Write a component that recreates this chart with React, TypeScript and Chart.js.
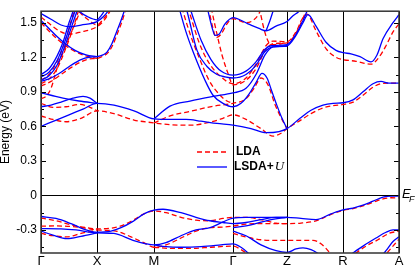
import { useEffect, useRef } from "react";
import { Chart, registerables } from "chart.js";
Chart.register(...registerables);

type Band = number[][];

const kTicks = [0, 56, 113, 192, 246, 302, 358];
const kLabels = ["Γ", "X", "M", "Γ", "Z", "R", "A"];
const energyTicks = [-0.3, 0, 0.3, 0.6, 0.9, 1.2, 1.5];
const energyMinorTicks = [-0.45, -0.15, 0.15, 0.45, 0.75, 1.05, 1.35];
const energyRange = [-0.5, 1.6];
const seriesNames = ["LDA", "LSDA+", "U"];
const axisTitle = "Energy (eV)";

// LSDA+U (blue, solid) conduction bands: [k, E]
const lsduConduction: Band[] = [
  [[0,0.60],[14,0.65],[28,0.70],[42,0.75],[56,0.80],[73,0.785],[93,0.735],[113,0.665],[130,0.66],[145,0.66],[160,0.645],[176,0.625],[192,0.61],[210,0.58],[225,0.545],[238,0.555],[246,0.58],[259,0.67],[270,0.74],[282,0.785],[292,0.80],[302,0.805],[312,0.83],[322,0.90],[332,0.97],[340,0.99],[348,0.975],[358,0.975]],
  [[0,0.77],[10,0.785],[20,0.81],[32,0.845],[42,0.86],[49,0.845],[56,0.80]],
  [[0,0.89],[10,0.87],[22,0.845],[38,0.82],[56,0.80]],
  [[0,0.99],[10,1.02],[20,1.07],[30,1.13],[40,1.18],[48,1.20],[56,1.205],[62,1.22],[66,1.245],[71,1.32],[76,1.43],[80,1.52],[84,1.62],[87,1.7]],
  [[0,1.00],[8,1.04],[16,1.13],[24,1.30],[30,1.45],[36,1.6],[40,1.7]],
  [[0,1.03],[8,1.07],[16,1.17],[24,1.34],[30,1.50],[34,1.6],[38,1.7]],
  [[0,1.05],[8,1.10],[16,1.21],[22,1.33],[28,1.50],[32,1.6],[35,1.7]],
  [[0,1.52],[8,1.45],[16,1.38],[24,1.32],[34,1.26],[45,1.22],[56,1.205]],
  [[0,1.58],[10,1.53],[20,1.48],[28,1.465],[40,1.48],[56,1.51],[62,1.55],[67,1.6],[70,1.65]],
  [[32,1.65],[38,1.6],[46,1.555],[56,1.525],[60,1.56],[63,1.6],[65,1.65]],
  [[113,0.665],[129,0.775],[149,0.82],[172,0.86],[192,0.89],[205,0.93],[215,1.05],[224,1.22],[232,1.29],[246,1.30],[255,1.39],[262,1.50],[267,1.57],[275,1.47],[285,1.33],[295,1.26],[302,1.24],[310,1.23],[319,1.205],[330,1.16],[336,1.22],[342,1.36],[352,1.50],[358,1.57]],
  [[136,1.7],[139,1.6],[145,1.42],[152,1.25],[164,1.00],[172,0.87],[182,0.80],[192,0.77],[200,0.80],[208,0.88],[215,0.98],[221,1.06],[226,1.02],[231,0.90],[236,0.78],[241,0.67],[246,0.58]],
  [[142,1.7],[146,1.6],[156,1.26],[166,1.12],[176,1.05],[184,1.03],[192,1.02],[205,1.05],[215,1.13],[224,1.25],[232,1.29],[246,1.295]],
  [[146,1.7],[150,1.6],[160,1.35],[170,1.18],[180,1.08],[192,1.045],[205,1.08],[215,1.16],[224,1.27],[230,1.30],[246,1.31],[255,1.40],[262,1.52],[266,1.6],[268,1.65]],
  [[164,1.7],[167,1.6],[171,1.46],[174,1.39],[178,1.40],[184,1.49],[192,1.545],[207,1.49],[218,1.45],[225,1.43],[235,1.47],[246,1.51],[252,1.56],[258,1.6],[262,1.65]],
  [[225,1.43],[229,1.52],[232,1.6],[234,1.65]],
];

// LSDA+U valence bands
const lsduValence: Band[] = [
  [[0,-0.183],[15,-0.20],[30,-0.245],[45,-0.30],[56,-0.32],[70,-0.31],[80,-0.28],[92,-0.225],[103,-0.16],[113,-0.128],[122,-0.12],[140,-0.15],[155,-0.19],[169,-0.22],[182,-0.235],[192,-0.245],[205,-0.235],[220,-0.21],[235,-0.19],[246,-0.19],[260,-0.2],[275,-0.21],[290,-0.16],[302,-0.125],[312,-0.11],[322,-0.085],[332,-0.05],[342,-0.015],[350,-0.005],[358,-0.005]],
  [[0,-0.288],[20,-0.29],[35,-0.30],[56,-0.325],[73,-0.33],[92,-0.39],[105,-0.42],[113,-0.43],[125,-0.41],[140,-0.35],[155,-0.30],[169,-0.28],[182,-0.23],[192,-0.197],[205,-0.19],[220,-0.19],[235,-0.19],[246,-0.19]],
  [[0,-0.31],[12,-0.345],[26,-0.375],[40,-0.355],[56,-0.325]],
  [[113,-0.43],[125,-0.445],[140,-0.45],[160,-0.445],[180,-0.43],[192,-0.42],[200,-0.45],[207,-0.5],[212,-0.55]],
  [[192,-0.31],[205,-0.35],[220,-0.43],[235,-0.48],[246,-0.495],[255,-0.465],[262,-0.455],[270,-0.47],[278,-0.51],[284,-0.55]],
  [[192,-0.28],[210,-0.255],[228,-0.215],[246,-0.19]],
  [[305,-0.55],[312,-0.50],[322,-0.44],[335,-0.37],[345,-0.32],[352,-0.30],[358,-0.30]],
  [[338,-0.55],[345,-0.48],[352,-0.40],[358,-0.36]],
];

// LDA (red, dashed) conduction bands
const ldaConduction: Band[] = [
  [[0,0.69],[12,0.66],[25,0.64],[40,0.67],[56,0.735],[73,0.71],[93,0.655],[113,0.63],[129,0.614],[149,0.61],[169,0.636],[182,0.67],[192,0.70],[205,0.66],[220,0.58],[232,0.515],[240,0.54],[246,0.58],[259,0.65],[270,0.71],[282,0.76],[292,0.78],[302,0.79],[312,0.81],[322,0.87],[332,0.94],[340,0.97],[348,0.975],[358,0.975]],
  [[0,0.80],[12,0.765],[25,0.77],[39,0.79],[48,0.77],[56,0.735]],
  [[113,0.63],[129,0.69],[149,0.73],[172,0.775],[192,0.80],[205,0.84],[213,0.93],[220,1.02],[227,0.96],[234,0.79],[241,0.66],[246,0.58]],
  [[0,0.84],[5,0.86],[10,0.93],[17,1.13],[24,1.28],[30,1.41],[35,1.51],[39,1.6],[42,1.66]],
  [[0,0.95],[10,0.99],[20,1.05],[30,1.11],[40,1.16],[48,1.185],[56,1.19],[62,1.21],[67,1.24],[72,1.31],[77,1.42],[81,1.51],[85,1.62],[88,1.7]],
  [[0,0.97],[8,1.01],[16,1.10],[24,1.26],[30,1.40],[36,1.56],[39,1.65]],
  [[0,1.00],[8,1.05],[16,1.16],[22,1.29],[28,1.45],[33,1.6],[36,1.68]],
  [[0,1.50],[10,1.41],[20,1.33],[30,1.27],[42,1.22],[56,1.19]],
  [[0,1.55],[10,1.48],[20,1.42],[28,1.40],[40,1.42],[56,1.465],[63,1.52],[69,1.6],[72,1.65]],
  [[33,1.65],[40,1.58],[48,1.52],[56,1.48],[63,1.54],[68,1.6],[70,1.65]],
  [[139,1.7],[142,1.6],[150,1.38],[158,1.20],[168,1.00],[178,0.88],[186,0.82],[192,0.80]],
  [[144,1.7],[148,1.6],[158,1.33],[168,1.15],[180,1.03],[192,0.97],[205,1.02],[215,1.14],[225,1.30],[232,1.34],[246,1.335],[255,1.42],[261,1.53],[266,1.575],[275,1.43],[285,1.275],[295,1.20],[302,1.18],[315,1.165],[330,1.14],[338,1.20],[345,1.30],[352,1.42],[358,1.49]],
  [[169,1.7],[171,1.6],[176,1.40],[181,1.22],[187,1.06],[192,0.96],[205,1.00],[215,1.10],[225,1.27],[233,1.32],[246,1.325],[255,1.41],[261,1.52],[265,1.6],[267,1.65]],
  [[165,1.7],[168,1.6],[172,1.45],[175,1.37],[180,1.40],[186,1.49],[192,1.535],[205,1.50],[212,1.52],[218,1.58],[221,1.65]],
  [[216,1.7],[219,1.6],[222,1.48],[226,1.36],[230,1.31],[236,1.31],[246,1.33]],
];

// LDA valence bands
const ldaValence: Band[] = [
  [[0,-0.197],[15,-0.22],[30,-0.255],[45,-0.28],[56,-0.29],[70,-0.285],[80,-0.265],[92,-0.215],[103,-0.16],[113,-0.135],[125,-0.15],[140,-0.19],[155,-0.215],[169,-0.22],[182,-0.20],[192,-0.19],[205,-0.19],[220,-0.21],[235,-0.24],[246,-0.245],[260,-0.24],[275,-0.22],[290,-0.165],[302,-0.13],[312,-0.115],[322,-0.09],[332,-0.06],[342,-0.03],[350,-0.02],[358,-0.022]],
  [[0,-0.267],[15,-0.265],[30,-0.27],[45,-0.285],[56,-0.30],[75,-0.31],[90,-0.36],[105,-0.42],[113,-0.45],[125,-0.43],[140,-0.37],[155,-0.31],[169,-0.28],[182,-0.275],[192,-0.265],[205,-0.25],[220,-0.245],[235,-0.245],[246,-0.245]],
  [[0,-0.33],[12,-0.35],[26,-0.36],[40,-0.33],[56,-0.30]],
  [[113,-0.45],[130,-0.46],[150,-0.46],[170,-0.45],[192,-0.44],[200,-0.47],[208,-0.52],[212,-0.55]],
  [[192,-0.33],[205,-0.36],[220,-0.385],[235,-0.39],[246,-0.39],[260,-0.39],[272,-0.39],[280,-0.42],[288,-0.49],[293,-0.55]],
  [[308,-0.55],[315,-0.50],[325,-0.44],[337,-0.385],[348,-0.33],[358,-0.31]],
  [[341,-0.55],[348,-0.48],[354,-0.42],[358,-0.38]],
];

const BLUE = "#0000ff";
const RED = "#ff0000";
const FONT = "'Liberation Sans', Arial, sans-serif";

function makeSet(band: Band, color: string, dashed: boolean) {
  return {
    data: band.map(([x, y]) => ({ x, y })),
    borderColor: color,
    borderWidth: 1.3,
    borderDash: dashed ? [5, 3] : [],
    pointRadius: 0,
    showLine: true,
    fill: false,
    cubicInterpolationMode: "monotone" as const,
    clip: 0,
  };
}

const decor = {
  id: "decor",
  afterDatasetsDraw(chart: any) {
    const { ctx, chartArea: a, scales } = chart;
    const y = scales.y;
    ctx.save();
    ctx.strokeStyle = "#000";
    ctx.lineWidth = 1;
    const y0 = Math.round(y.getPixelForValue(0)) + 0.5;
    ctx.beginPath();
    ctx.moveTo(a.left, y0);
    ctx.lineTo(a.right, y0);
    ctx.stroke();
    // ticks
    const drawTick = (v: number, len: number) => {
      const py = Math.round(y.getPixelForValue(v)) + 0.5;
      ctx.beginPath();
      ctx.moveTo(a.left, py);
      ctx.lineTo(a.left + len, py);
      ctx.moveTo(a.right, py);
      ctx.lineTo(a.right - len, py);
      ctx.stroke();
    };
    energyTicks.forEach((v) => drawTick(v, 5));
    energyMinorTicks.forEach((v) => drawTick(v, 3));
    // frame
    ctx.strokeStyle = "#333";
    ctx.lineWidth = 1.5;
    ctx.strokeRect(a.left, a.top, a.right - a.left, a.bottom - a.top);
    // legend
    ctx.lineWidth = 1.3;
    ctx.strokeStyle = RED;
    ctx.setLineDash([5, 3]);
    ctx.beginPath();
    ctx.moveTo(197, 152);
    ctx.lineTo(227, 152);
    ctx.stroke();
    ctx.setLineDash([]);
    ctx.strokeStyle = BLUE;
    ctx.beginPath();
    ctx.moveTo(197, 167);
    ctx.lineTo(227, 167);
    ctx.stroke();
    ctx.fillStyle = "#000";
    ctx.textBaseline = "middle";
    ctx.textAlign = "left";
    ctx.font = `bold 12px ${FONT}`;
    ctx.fillText(seriesNames[0], 236, 152);
    ctx.fillText(seriesNames[1], 234, 167);
    const w = ctx.measureText(seriesNames[1]).width;
    ctx.font = `italic 13px 'Liberation Serif', serif`;
    ctx.fillText(seriesNames[2], 234 + w + 1, 167);
    // E_F label
    ctx.textBaseline = "alphabetic";
    ctx.font = `italic 13px ${FONT}`;
    ctx.fillText("E", 402, 198);
    ctx.font = `italic 9px ${FONT}`;
    ctx.fillText("F", 409, 202);
    // y title
    ctx.save();
    ctx.translate(6, (a.top + a.bottom) / 2);
    ctx.rotate(-Math.PI / 2);
    ctx.textAlign = "center";
    ctx.textBaseline = "middle";
    ctx.font = `12px ${FONT}`;
    ctx.fillText(axisTitle, 0, 0);
    ctx.restore();
    ctx.restore();
  },
};

export default function App() {
  const ref = useRef<HTMLCanvasElement | null>(null);
  useEffect(() => {
    if (!ref.current) return;
    Chart.defaults.font.family = FONT;
    Chart.defaults.font.size = 12;
    Chart.defaults.color = "#000";
    const datasets = [
      ...lsduConduction.map((b) => makeSet(b, BLUE, false)),
      ...lsduValence.map((b) => makeSet(b, BLUE, false)),
      ...ldaConduction.map((b) => makeSet(b, RED, true)),
      ...ldaValence.map((b) => makeSet(b, RED, true)),
    ];
    const chart = new Chart(ref.current, {
      type: "scatter",
      data: { datasets } as any,
      plugins: [decor],
      options: {
        responsive: false,
        animation: false,
        layout: { padding: { left: 0, right: 16, top: 1, bottom: 0 } },
        plugins: { legend: { display: false }, tooltip: { enabled: false } },
        scales: {
          x: {
            type: "linear",
            min: kTicks[0],
            max: kTicks[kTicks.length - 1],
            afterBuildTicks: (s: any) => {
              s.ticks = kTicks.map((v) => ({ value: v }));
            },
            afterFit: (s: any) => {
              s.height = 14;
            },
            ticks: {
              autoSkip: false,
              maxRotation: 0,
              padding: 1,
              font: { size: 13 },
              callback: (_v: any, i: number) => kLabels[i],
            },
            grid: { color: "#000", lineWidth: 1, drawTicks: false },
            border: { display: false },
          },
          y: {
            type: "linear",
            min: energyRange[0],
            max: energyRange[1],
            afterBuildTicks: (s: any) => {
              s.ticks = energyTicks.map((v) => ({ value: v }));
            },
            afterFit: (s: any) => {
              s.width = 41;
            },
            ticks: {
              padding: 4,
              callback: (v: any) => (v === 0 ? "0" : Number(v).toFixed(1)),
            },
            grid: { display: false, drawTicks: false },
            border: { display: false },
          },
        },
      } as any,
    });
    return () => chart.destroy();
  }, []);
  return (
    <div style={{ position: "fixed", left: 0, top: 0, width: 415, height: 267, background: "#fff" }}>
      <canvas ref={ref} width={415} height={267} style={{ width: 415, height: 267 }} />
    </div>
  );
}
